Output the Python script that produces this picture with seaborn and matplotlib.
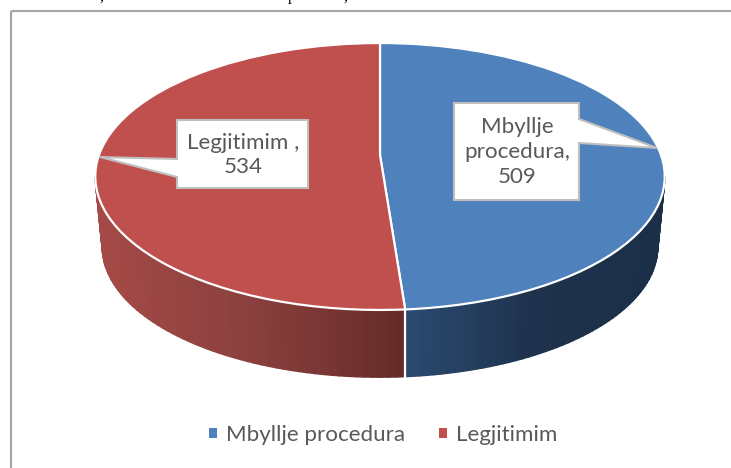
import numpy as np
import matplotlib
matplotlib.use("Agg")
import matplotlib.pyplot as plt
from matplotlib.transforms import Transform
from matplotlib.patches import Polygon, Rectangle
from matplotlib.collections import PolyCollection
import seaborn as sns

# ---------- data ----------
categories = ["Mbyllje procedura", "Legjitimim"]
values = [509, 534]
label_lines = ["Mbyllje\nprocedura,", "Legjitimim ,"]

# ---------- styles ----------
top_colors = ["#4F81BD", "#C0504D"]
wall_cmaps = [sns.blend_palette(["#2B4B72", "#1E324D", "#1C2F48"], as_cmap=True),
              sns.blend_palette(["#A64A47", "#8A403E", "#652B29"], as_cmap=True)]
wall_ranges = [(405, 665), (95, 405)]
text_color = "#595959"
font = "Lato"
fs = 16.1

sns.set_theme(style="white")
plt.rcParams["font.family"] = [font, "DejaVu Sans"]

CX, CY = 380.0, 155.0      # pie apex on the canvas
SX, SY = 281.0, 130.0      # scale of the top disc
K = 0.161                  # perspective strength
BOTTOM_SCALE, BOTTOM_DY = 0.975, 71.0


class Perspective(Transform):
    input_dims = output_dims = 2
    is_affine = False
    has_inverse = False

    def __init__(self, scale=1.0, dy=0.0):
        super().__init__()
        self.scale, self.dy = scale, dy

    def transform_non_affine(self, values):
        v = np.asarray(values, dtype=float)
        w = 1 + K * v[:, 1]
        return np.column_stack([CX + self.scale * SX * v[:, 0] / w,
                                CY + self.dy - self.scale * SY * v[:, 1] / w])


fig = plt.figure(figsize=(7.31, 4.68), dpi=100, facecolor="white")
ax = fig.add_axes([0, 0, 1, 1])

wedges, _ = ax.pie(values, colors=top_colors, startangle=90, counterclock=False,
                   wedgeprops=dict(edgecolor="white", linewidth=1.6, zorder=5))
ax.set_aspect("auto")
ax.set_xlim(0, 731)
ax.set_ylim(468, 0)
ax.axis("off")

top_tf = Perspective()
bot_tf = Perspective(BOTTOM_SCALE, BOTTOM_DY)
for w in wedges:
    w.set_transform(top_tf + ax.transData)

# side wall of each slice, visible between the two silhouette angles
sil = np.degrees(np.arcsin(K))
for w, cmap, (x0, x1) in zip(wedges, wall_cmaps, wall_ranges):
    lo, hi = max(w.theta1, -180 + sil), min(w.theta2, -sil)
    edges = np.radians(np.linspace(lo, hi, 60))
    unit = np.column_stack([np.cos(edges), np.sin(edges)])
    up, dn = top_tf.transform(unit), bot_tf.transform(unit)
    quads = [[up[i], up[i + 1], dn[i + 1], dn[i]] for i in range(len(edges) - 1)]
    t = np.array([(q[0][0] + q[1][0]) / 2 for q in quads])
    cols = cmap(np.clip((t - x0) / (x1 - x0), 0, 1))
    ax.add_collection(PolyCollection(quads, facecolors=cols, edgecolors=cols,
                                     linewidths=1.2, zorder=2))

# white seam on the wall between the two slices
seam = np.radians(wedges[0].theta1)
seam_pt = np.array([[np.cos(seam), np.sin(seam)]])
a, b = top_tf.transform(seam_pt)[0], bot_tf.transform(seam_pt)[0]
ax.plot([a[0], a[0]], [a[1], b[1] + 1], color="white", lw=1.6, zorder=3)

# callouts
callouts = [
    ([(454, 103), (579, 103), (579, 119), (657, 148), (579, 143), (579, 200), (454, 200)],
     (517, 152), f"{label_lines[0]}\n{values[0]}"),
    ([(177, 120), (308, 120), (308, 188), (177, 188), (177, 177), (100, 157), (177, 159)],
     (243, 155), f"{label_lines[1]}\n{values[1]}"),
]
for verts, (tx, ty), txt in callouts:
    ax.add_patch(Polygon(verts, closed=True, facecolor="white", edgecolor="#BFBFBF",
                         linewidth=1.5, joinstyle="miter", zorder=6))
    ax.text(tx, ty, txt, ha="center", va="center", color=text_color, fontsize=fs,
            linespacing=1.3, zorder=7, family=[font, "DejaVu Sans"])

# chart frame (its right and bottom sides lie outside the crop)
ax.add_patch(Rectangle((11, 10.5), 900, 700, fill=False, edgecolor="#A6A6A6",
                       linewidth=1.6, zorder=1))

# descenders of the document text that was cut off above the chart
for x, s in [(101, ","), (292, "p"), (345, ",")]:
    ax.text(x, 0.5, s, ha="center", va="baseline", color="black", fontsize=11.5,
            family="Liberation Serif")

# legend
leg = ax.legend(wedges, categories, loc="center", bbox_to_anchor=(383, 435),
                bbox_transform=ax.transData, ncols=2, frameon=False, fontsize=fs,
                handlelength=0.36, handleheight=0.36, handletextpad=0.4,
                columnspacing=1.5, borderpad=0)
for h in leg.get_patches():
    h.set_edgecolor("none")
for txt in leg.get_texts():
    txt.set_color(text_color)

fig.savefig("out.png", dpi=100)
